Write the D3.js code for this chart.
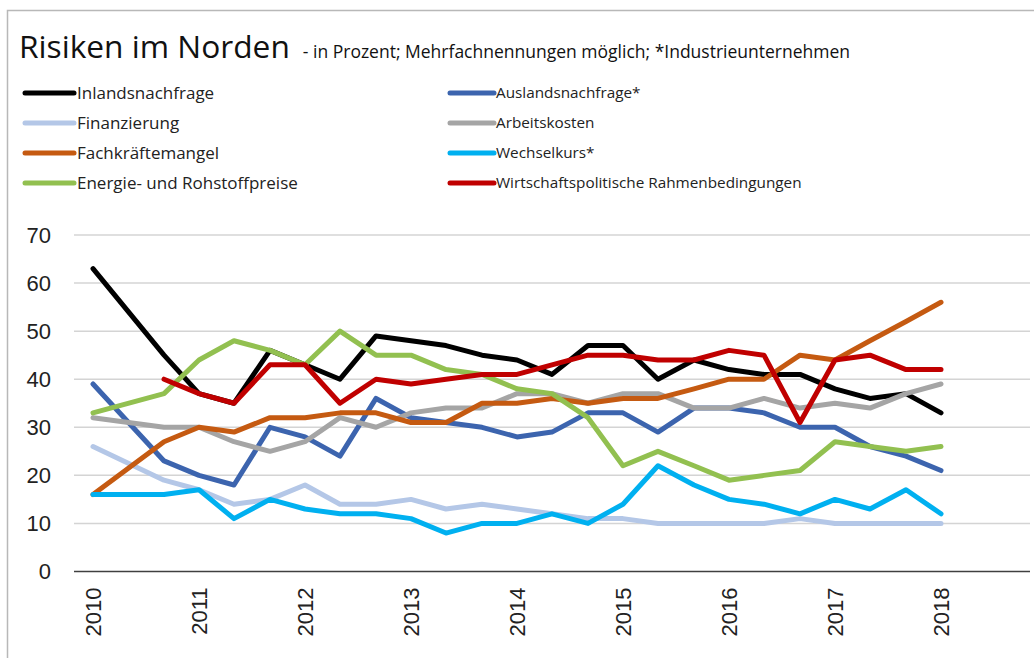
<!DOCTYPE html>
<html>
<head>
<meta charset="utf-8">
<script src="https://cdn.jsdelivr.net/npm/d3@7"></script>
<style>
  body { margin: 0; background: #fff; }
  svg { display: block; }
</style>
</head>
<body>
<div class="chart"></div>
<script>
// Survey periods: three per year, 2010 to 2018
var periods = [2010, 2010.33, 2010.67, 2011, 2011.33, 2011.67, 2012, 2012.33, 2012.67,
               2013, 2013.33, 2013.67, 2014, 2014.33, 2014.67, 2015, 2015.33, 2015.67,
               2016, 2016.33, 2016.67, 2017, 2017.33, 2017.67, 2018];

var yearTicks = [2010, 2011, 2012, 2013, 2014, 2015, 2016, 2017, 2018];
var valueTicks = [0, 10, 20, 30, 40, 50, 60, 70];

var seriesNames = ["Inlandsnachfrage", "Auslandsnachfrage*", "Finanzierung", "Arbeitskosten",
                   "Fachkräftemangel", "Wechselkurs*", "Energie- und Rohstoffpreise",
                   "Wirtschaftspolitische Rahmenbedingungen"];
var seriesColors = ["#000000", "#3c64ae", "#b4c7e7", "#a5a5a5", "#c55a11", "#00b0f0", "#92c050", "#c00000"];

var inland     = [63, null, 45, 37, 35, 46, 43, 40, 49, 48, 47, 45, 44, 41, 47, 47, 40, 44, 42, 41, 41, 38, 36, 37, 33];
var ausland    = [39, null, 23, 20, 18, 30, 28, 24, 36, 32, 31, 30, 28, 29, 33, 33, 29, 34, 34, 33, 30, 30, 26, 24, 21];
var finanz     = [26, null, 19, 17, 14, 15, 18, 14, 14, 15, 13, 14, 13, 12, 11, 11, 10, 10, 10, 10, 11, 10, 10, 10, 10];
var arbeit     = [32, null, 30, 30, 27, 25, 27, 32, 30, 33, 34, 34, 37, 37, 35, 37, 37, 34, 34, 36, 34, 35, 34, 37, 39];
var fachkraft  = [16, null, 27, 30, 29, 32, 32, 33, 33, 31, 31, 35, 35, 36, 35, 36, 36, 38, 40, 40, 45, 44, 48, 52, 56];
var wechsel    = [16, null, 16, 17, 11, 15, 13, 12, 12, 11, 8, 10, 10, 12, 10, 14, 22, 18, 15, 14, 12, 15, 13, 17, 12];
var energie    = [33, null, 37, 44, 48, 46, 43, 50, 45, 45, 42, 41, 38, 37, 32, 22, 25, 22, 19, 20, 21, 27, 26, 25, 26];
var wirtschaft = [null, null, 40, 37, 35, 43, 43, 35, 40, 39, 40, 41, 41, 43, 45, 45, 44, 44, 46, 45, 31, 44, 45, 42, 42];

var seriesValues = [inland, ausland, finanz, arbeit, fachkraft, wechsel, energie, wirtschaft];

var width = 1034, height = 658;
var textFont = "'Open Sans', 'Noto Sans', sans-serif";
var axisFont = "'Liberation Sans', Arial, sans-serif";

var svg = d3.select(".chart")
            .append("svg")
            .attr("width", width)
            .attr("height", height);

// outer frame
svg.append("rect")
   .attr("x", 7.5).attr("y", 10.5)
   .attr("width", 1100).attr("height", 700)
   .attr("fill", "none")
   .attr("stroke", "#b8b8b8")
   .attr("stroke-width", 1.5);

// title
var title = svg.append("text")
   .attr("x", 19)
   .attr("y", 58)
   .style("font-family", textFont)
   .style("fill", "#111");
title.append("tspan")
   .style("font-size", "31.7px")
   .text("Risiken im Norden");
title.append("tspan")
   .attr("dx", 13)
   .style("font-size", "17.5px")
   .text("- in Prozent; Mehrfachnennungen möglich; *Industrieunternehmen");

// scales
var x = d3.scaleLinear().domain([2010, 2018]).range([93, 941]);
var y = d3.scaleLinear().domain([0, 70]).range([571.5, 235]);
var plotLeft = 74, plotRight = 1030;

// gridlines
svg.append("g")
   .selectAll("line")
   .data(valueTicks.filter(function(d) { return d > 0; }))
   .enter()
   .append("line")
   .attr("x1", plotLeft).attr("x2", plotRight)
   .attr("y1", function(d) { return y(d); })
   .attr("y2", function(d) { return y(d); })
   .attr("stroke", "#d4d4d4")
   .attr("stroke-width", 1.5);

// y axis labels
var yAxis = d3.axisLeft(y).tickValues(valueTicks).tickSize(0).tickPadding(0);
var gy = svg.append("g")
   .attr("transform", "translate(51,0)")
   .call(yAxis);
gy.select(".domain").remove();
gy.selectAll("text")
  .style("font-family", axisFont)
  .style("font-size", "22px")
  .style("fill", "#222");

// x axis
var xAxis = d3.axisBottom(x).tickValues(yearTicks).tickSize(0).tickFormat(d3.format("d"));
var gx = svg.append("g")
   .attr("transform", "translate(0," + y(0) + ")")
   .call(xAxis);
gx.select(".domain").remove();
gx.selectAll("text")
  .attr("transform", "rotate(-90)")
  .attr("text-anchor", "end")
  .attr("x", -16)
  .attr("y", 0)
  .attr("dy", "0.35em")
  .style("font-family", axisFont)
  .style("font-size", "22px")
  .style("fill", "#222");

svg.append("line")
   .attr("x1", plotLeft).attr("x2", plotRight)
   .attr("y1", y(0)).attr("y2", y(0))
   .attr("stroke", "#404040")
   .attr("stroke-width", 1.6);

// lines (missing values are bridged, like the original)
var line = d3.line()
   .x(function(d) { return x(d.t); })
   .y(function(d) { return y(d.v); });

seriesValues.forEach(function(vals, i) {
  var pts = [];
  for (var j = 0; j < vals.length; j++) {
    if (vals[j] != null) pts.push({ t: periods[j], v: vals[j] });
  }
  svg.append("path")
     .datum(pts)
     .attr("d", line)
     .attr("fill", "none")
     .attr("stroke", seriesColors[i])
     .attr("stroke-width", 5)
     .attr("stroke-linejoin", "round")
     .attr("stroke-linecap", "round");
});

// legend: two columns, four rows (left column text is set a bit wider)
var legendCols = [{ x1: 25, x2: 74, tx: 77, size: "17px" }, { x1: 450, x2: 494, tx: 496, size: "15.3px" }];
var legendRows = [93, 123, 153, 183];

seriesNames.forEach(function(name, i) {
  var col = legendCols[i % 2];
  var ry = legendRows[Math.floor(i / 2)];
  svg.append("line")
     .attr("x1", col.x1).attr("x2", col.x2)
     .attr("y1", ry).attr("y2", ry)
     .attr("stroke", seriesColors[i])
     .attr("stroke-width", 5)
     .attr("stroke-linecap", "round");
  svg.append("text")
     .attr("x", col.tx)
     .attr("y", ry)
     .attr("dy", "0.35em")
     .style("font-family", textFont)
     .style("font-size", col.size)
     .style("fill", "#222")
     .text(name);
});
</script>
</body>
</html>
